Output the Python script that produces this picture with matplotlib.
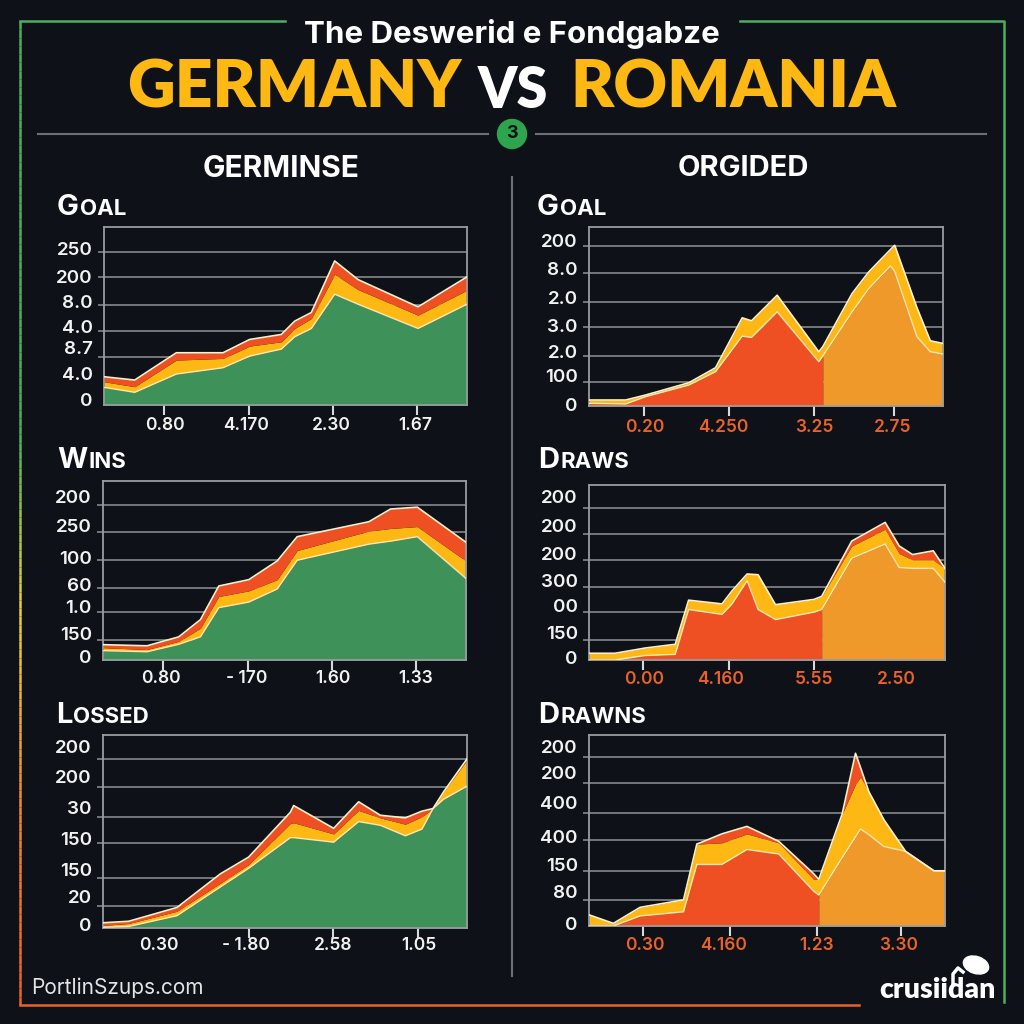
"""Germany vs Romania panel poster."""
import matplotlib
matplotlib.use("Agg")
import matplotlib.pyplot as plt
import numpy as np
from matplotlib.collections import LineCollection
from matplotlib.colors import LinearSegmentedColormap
from matplotlib.patches import Circle, Ellipse

BG = "#0e1218"
GREEN = "#3d9159"
YELLOW = "#fdb813"
RED = "#ef5023"
ORANGE = "#ef992b"
EDGE = "#fff1cf"
GRID = "#85888b"
FRAME_GREEN = "#4caf60"
FRAME_ORANGE = "#e8622a"

# Values are heights, per panel
goal_x = [0, 92, 217, 357, 437, 532, 572, 622, 692, 762, 942, 1089]
goal_low = [53, 38, 93, 112, 147, 168, 205, 230, 333, 303, 230, 303]
goal_mid = [70, 55, 135, 140, 177, 190, 230, 260, 393, 347, 270, 345]
goal_top = [85, 75, 157, 157, 197, 212, 252, 278, 433, 377, 295, 385]
goal_grid = [145, 222, 302, 384, 460]
goal_ylab_pos = [17, 95, 172, 235, 310, 385, 470]
goal_ylab = ["0", "4.0", "8.7", "4.0", "8.0", "200", "250"]
goal_marks = [180, 435, 687, 940]
goal_xlab_pos = [184, 427, 682, 934]
goal_xlab = ["0.80", "4.170", "2.30", "1.67"]

goal2_x = [0, 110, 170, 300, 380, 460, 488, 565, 690, 702, 790, 840, 905, 918, 985, 1025, 1063]
goal2_low = [8, 6, 28, 63, 103, 210, 206, 283, 133, 150, 283, 353, 421, 405, 208, 163, 156]
goal2_top = [18, 18, 33, 70, 115, 265, 256, 333, 163, 178, 338, 403, 470, 483, 295, 196, 188]
goal2_grid = [73, 151, 236, 313, 400, 481]
goal2_ylab_pos = [6, 93, 165, 243, 326, 413, 498]
goal2_ylab = ["0", "100", "2.0", "3.0", "2.0", "8.0", "200"]
goal2_marks = [164, 420, 676, 916]
goal2_xlab_pos = [168, 404, 678, 911]
goal2_xlab = ["0.20", "4.250", "3.25", "2.75"]

wins_x = [0, 132, 227, 292, 347, 437, 522, 582, 797, 862, 942, 1088]
wins_low = [25, 22, 42, 62, 140, 155, 190, 267, 310, 318, 330, 218]
wins_mid = [33, 28, 50, 85, 170, 185, 215, 293, 345, 352, 357, 265]
wins_top = [41, 38, 62, 108, 198, 215, 265, 330, 370, 404, 409, 315]
wins_grid = [53, 128, 192, 267, 343, 414]
wins_ylab_pos = [10, 70, 144, 202, 274, 361, 437]
wins_ylab = ["0", "150", "1.0", "60", "100", "250", "200"]
wins_marks = [179, 436, 687, 939]
wins_xlab_pos = [173, 432, 688, 937]
wins_xlab = ["0.80", "- 170", "1.60", "1.33"]

draws_x = [0, 78, 168, 258, 298, 398, 428, 473, 506, 558, 673, 696, 786, 886, 928, 968, 1030, 1065]
draws_low = [0, 0, 12, 15, 135, 122, 150, 212, 135, 108, 128, 135, 272, 310, 247, 245, 245, 208]
draws_mid = [18, 18, 32, 42, 160, 150, 185, 230, 228, 148, 162, 170, 305, 350, 285, 268, 268, 245]
draws_top = [18, 18, 32, 42, 160, 150, 185, 230, 228, 148, 162, 170, 318, 368, 305, 282, 292, 245]
draws_grid = [53, 129, 196, 267, 338, 406]
draws_ylab_pos = [6, 74, 145, 212, 286, 361, 437]
draws_ylab = ["0", "150", "00", "300", "200", "200", "200"]
draws_marks = [162, 418, 673, 918]
draws_xlab_pos = [166, 394, 672, 918]
draws_xlab = ["0.00", "4.160", "5.55", "2.50"]

lossed_x = [0, 77, 222, 352, 437, 562, 572, 692, 767, 832, 907, 957, 990, 1022, 1092]
lossed_low = [2, 4, 33, 110, 160, 242, 242, 230, 285, 275, 247, 265, 320, 345, 380]
lossed_mid = [7, 12, 45, 120, 170, 280, 282, 252, 315, 295, 278, 298, 320, 365, 450]
lossed_top = [14, 18, 55, 145, 190, 310, 328, 267, 338, 302, 295, 313, 320, 365, 453]
lossed_grid = [60, 135, 227, 298, 377, 453]
lossed_ylab_pos = [10, 85, 158, 240, 323, 407, 485]
lossed_ylab = ["0", "20", "150", "150", "30", "200", "200"]
lossed_marks = [437, 689, 944]
lossed_xlab_pos = [167, 430, 690, 947]
lossed_xlab = ["0.30", "- 1.80", "2.58", "1.05"]

drawns_x = [0, 73, 153, 283, 323, 333, 398, 473, 568, 673, 688, 758, 798, 813, 838, 883, 948, 1033, 1066]
drawns_low = [0, 0, 27, 38, 165, 165, 165, 205, 193, 93, 83, 183, 239, 260, 245, 213, 200, 148, 148]
drawns_mid = [30, 7, 50, 70, 220, 220, 223, 247, 223, 125, 125, 300, 380, 400, 360, 285, 200, 148, 148]
drawns_top = [30, 7, 50, 70, 220, 223, 247, 267, 227, 140, 125, 300, 463, 425, 360, 285, 200, 148, 148]
drawns_grid = [69, 147, 230, 304, 382, 454]
drawns_ylab_pos = [8, 92, 165, 240, 330, 412, 480]
drawns_ylab = ["0", "80", "150", "400", "400", "200", "200"]
drawns_marks = [162, 423, 683, 933]
drawns_xlab_pos = [168, 403, 681, 926]
drawns_xlab = ["0.30", "4.160", "1.23", "3.30"]

plt.rcParams["font.family"] = ["Inter", "Open Sans", "DejaVu Sans"]

fig = plt.figure(figsize=(10.24, 10.24), dpi=100, facecolor=BG)


def add_panel(box, width, height, x, low, mid, top, grid, ylab_pos, ylab,
              marks, xlab_pos, xlab, split=None, xlab_color="#f2f2f2", xpad=8):
    left, up, right, base = box
    ax = fig.add_axes([left / 1024, 1 - base / 1024, (right - left) / 1024, (base - up) / 1024])
    ax.set_facecolor("none")
    x, low, mid, top = map(np.array, (x, low, mid, top))

    if split is None:
        ax.fill_between(x, 0, low, color=GREEN, lw=0, zorder=2)
    else:
        ax.fill_between(x, 0, low, where=x <= split, color=RED, lw=0, zorder=2)
        ax.fill_between(x, 0, low, where=x >= split, color=ORANGE, lw=0, zorder=2)
    ax.fill_between(x, low, mid, color=YELLOW, lw=0, zorder=2)
    ax.fill_between(x, mid, top, color=RED, lw=0, zorder=2)
    ax.plot(x, low, color=EDGE, lw=1.0, alpha=0.85, zorder=3)
    ax.plot(x, top, color=EDGE, lw=1.2, zorder=3)

    ax.set_xlim(0, width)
    ax.set_ylim(0, height)
    ax.set_yticks(ylab_pos, ylab)
    ax.set_yticks(grid, minor=True)
    ax.set_xticks(xlab_pos, xlab)
    ax.set_xticks(marks, minor=True)
    ax.grid(True, which="minor", axis="y", color=GRID, lw=1.2, zorder=1)
    ax.set_axisbelow(True)
    ax.tick_params(axis="y", which="major", length=0, pad=8, labelsize=13.5, labelcolor="#f2f2f2")
    ax.tick_params(axis="y", which="minor", length=4, width=1.2, color=GRID)
    ax.tick_params(axis="x", which="major", length=0, pad=xpad, labelsize=12.5, labelcolor=xlab_color)
    ax.tick_params(axis="x", which="minor", length=7, width=1.5, color="#d8d8d8")
    for lab in ax.get_xticklabels() + ax.get_yticklabels():
        lab.set_fontweight("semibold")
    for sp in ax.spines.values():
        sp.set_color("#9a9da0")
        sp.set_linewidth(1.3)
    return ax


add_panel((104, 227, 467, 405), 1089, 535, goal_x, goal_low, goal_mid, goal_top, goal_grid,
          goal_ylab_pos, goal_ylab, goal_marks, goal_xlab_pos, goal_xlab, xpad=9)
add_panel((589, 227, 943, 406), 1063, 538, goal2_x, goal2_low, goal2_top, goal2_top, goal2_grid,
          goal2_ylab_pos, goal2_ylab, goal2_marks, goal2_xlab_pos, goal2_xlab,
          split=702, xlab_color=FRAME_ORANGE, xpad=9.5)
add_panel((103, 481, 466, 660), 1088, 479, wins_x, wins_low, wins_mid, wins_top, wins_grid,
          wins_ylab_pos, wins_ylab, wins_marks, wins_xlab_pos, wins_xlab, xpad=7.5)
add_panel((589, 485, 945, 660), 1065, 468, draws_x, draws_low, draws_mid, draws_top, draws_grid,
          draws_ylab_pos, draws_ylab, draws_marks, draws_xlab_pos, draws_xlab,
          split=696, xlab_color=FRAME_ORANGE, xpad=8)
add_panel((103, 735, 467, 928), 1092, 517, lossed_x, lossed_low, lossed_mid, lossed_top, lossed_grid,
          lossed_ylab_pos, lossed_ylab, lossed_marks, lossed_xlab_pos, lossed_xlab, xpad=6.5)
add_panel((589, 735, 945, 926), 1066, 512, drawns_x, drawns_low, drawns_mid, drawns_top, drawns_grid,
          drawns_ylab_pos, drawns_ylab, drawns_marks, drawns_xlab_pos, drawns_xlab,
          split=688, xlab_color=FRAME_ORANGE, xpad=8)

# overlay in pixel coordinates for the poster furniture
deco = fig.add_axes([0, 0, 1, 1], zorder=5)
deco.set_xlim(0, 1024)
deco.set_ylim(1024, 0)
deco.axis("off")

deco.plot([20, 285], [21, 21], color=FRAME_GREEN, lw=1.8)
deco.plot([740, 1004, 1004], [21, 21, 1002], color=FRAME_GREEN, lw=1.8)
deco.plot([20, 859], [1005, 1005], color=FRAME_ORANGE, lw=1.8)

side_y = np.linspace(21, 1005, 120)
side = np.column_stack([np.full_like(side_y, 20), side_y]).reshape(-1, 1, 2)
side_cmap = LinearSegmentedColormap.from_list(
    "side", [(0, FRAME_GREEN), (0.42, FRAME_GREEN), (0.6, "#e6d23c"), (0.8, "#ee8a2c"), (1, FRAME_ORANGE)])
lc = LineCollection(np.concatenate([side[:-1], side[1:]], axis=1), cmap=side_cmap, linewidths=1.8)
lc.set_array(np.linspace(0, 1, 119))
deco.add_collection(lc)

deco.plot([38, 488], [134, 134], color="#6d7073", lw=1.5)
deco.plot([536, 986], [134, 134], color="#6d7073", lw=1.5)
deco.plot([512, 512], [177, 976], color="#6d7073", lw=1.5)
deco.add_patch(Circle((512, 134), 14.5, color="#2fa44f", zorder=3))
deco.text(512, 134, "3", color=BG, fontsize=13, fontweight="bold", ha="center", va="center", zorder=4)

deco.text(512, 34, "The Deswerid e Fondgabze", color="white", fontsize=22.5, fontweight="bold",
          ha="center", va="center")
deco.text(294, 108, "GERMANY", color=YELLOW, fontsize=47.5, fontweight="heavy", ha="center", va="baseline",
          family=["Lato", "Open Sans"])
deco.text(513, 108, "VS", color="white", fontsize=40, fontweight="heavy", ha="center", va="baseline",
          family=["Lato", "Open Sans"])
deco.text(733, 108, "ROMANIA", color=YELLOW, fontsize=47.5, fontweight="heavy", ha="center", va="baseline",
          family=["Lato", "Open Sans"])

deco.text(281, 169, "GERMINSE", color="white", fontsize=21.5, fontweight="bold", ha="center", va="center")
deco.text(743, 169, "ORGIDED", color="white", fontsize=21, fontweight="bold", ha="center", va="center")


def small_caps(x, y, word):
    head = deco.text(x, y, word[0], color="white", fontsize=21, fontweight="bold", va="baseline")
    fig.canvas.draw()
    box = head.get_window_extent()
    deco.text(box.x1 + 1, y, word[1:], color="white", fontsize=16, fontweight="bold", va="baseline")


small_caps(57, 215, "GOAL")
small_caps(537, 215, "GOAL")
small_caps(57, 468, "WINS")
small_caps(538, 468, "DRAWS")
small_caps(56, 723, "LOSSED")
small_caps(538, 723, "DRAWNS")

deco.text(31, 988, "PortlinSzups.com", color="#e4e4e4", fontsize=15, ha="left", va="center")
deco.text(996, 990, "crusiidan", color="white", fontsize=20.5, fontweight="heavy", ha="right", va="center",
          family=["Lato", "Open Sans"])
deco.add_patch(Ellipse((976, 965), 26, 17, angle=18, color="white"))
deco.plot([953, 953, 958, 963], [984, 974, 968, 972], color="white", lw=2.5)

fig.savefig("out.png", dpi=100, facecolor=BG)
